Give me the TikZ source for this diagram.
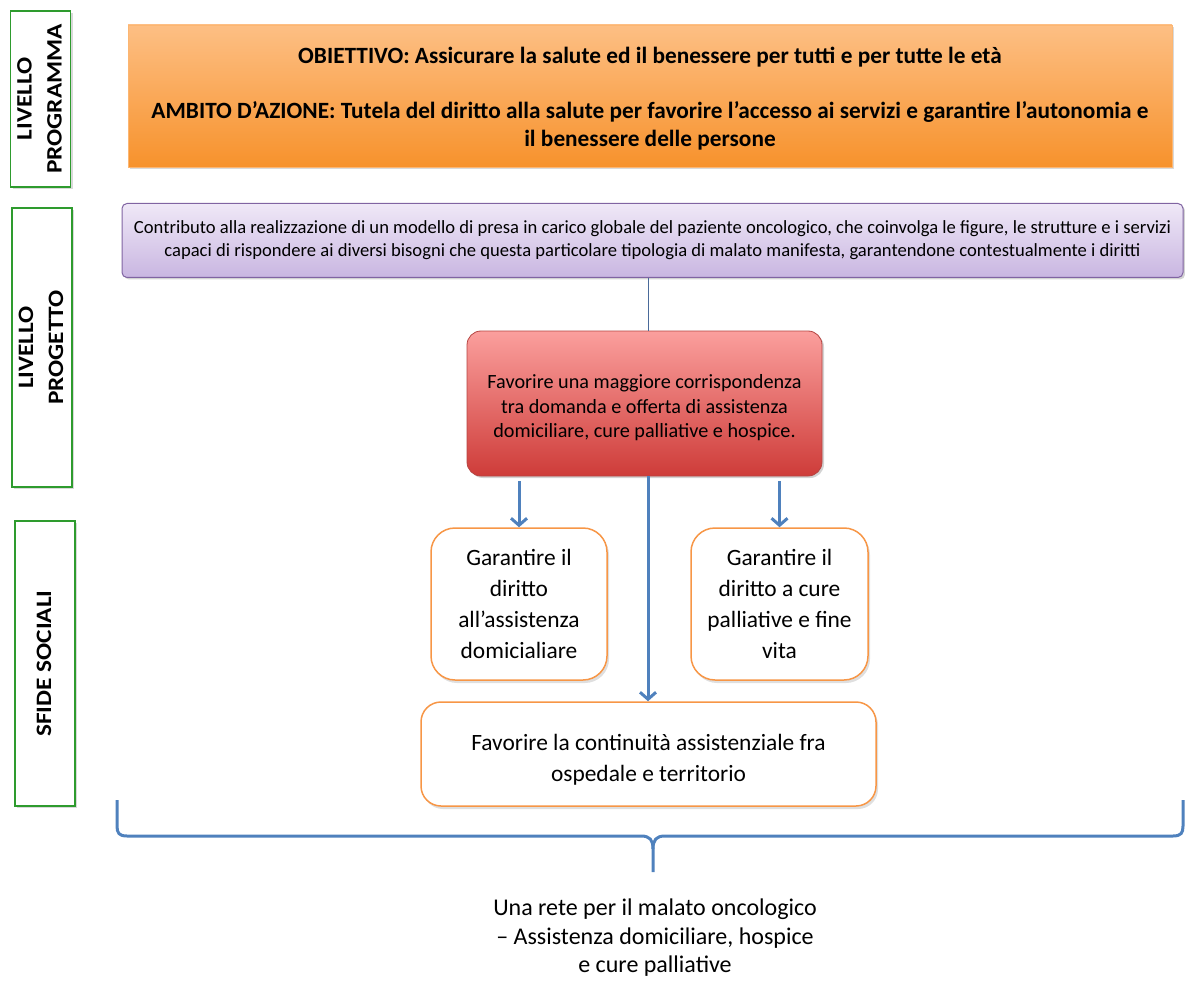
\documentclass[tikz,border=0pt]{standalone}
\usepackage{fontspec}
\setmainfont{Carlito}
\usetikzlibrary{shadows,arrows.meta}
\definecolor{gbord}{HTML}{2E9B2E}
\definecolor{otop}{HTML}{FDBF84}
\definecolor{obot}{HTML}{F7922C}
\definecolor{ptop}{HTML}{EFE8F7}
\definecolor{pbot}{HTML}{C9B6E1}
\definecolor{pbord}{HTML}{8064A2}
\definecolor{rtop}{HTML}{FB9F9D}
\definecolor{rbot}{HTML}{CE3C39}
\definecolor{rbord}{HTML}{B54542}
\definecolor{obord}{HTML}{F79646}
\definecolor{barrow}{HTML}{4F81BD}
\definecolor{thinl}{HTML}{4A6A9A}
\newcommand{\lvtext}[1]{\scalebox{1.15}[1]{\begin{tabular}{@{}c@{}}#1\end{tabular}}}
\tikzset{
  levelbox/.style={draw=gbord,line width=1.3pt,fill=white,rotate=90,align=center,
    font=\bfseries\fontsize{22}{30}\selectfont,inner sep=0pt,
    drop shadow={shadow xshift=2pt,shadow yshift=-2pt,opacity=0.3}},
  goalbox/.style={top color=otop,bottom color=obot,draw=otop!80!obot,line width=0.6pt,
    align=center,inner sep=0pt,drop shadow={shadow xshift=2pt,shadow yshift=-2pt,opacity=0.3}},
  goaltext/.style={font=\bfseries\fontsize{23.3}{28}\selectfont,align=center},
  projbox/.style={top color=ptop,bottom color=pbot,draw=pbord,line width=1pt,rounded corners=5pt,
    align=center,inner sep=0pt,font=\fontsize{18.6}{23}\selectfont,
    drop shadow={shadow xshift=2pt,shadow yshift=-2pt,opacity=0.35}},
  redbox/.style={top color=rtop,bottom color=rbot,draw=rbord,line width=0.8pt,rounded corners=14pt,
    inner sep=0pt,drop shadow={shadow xshift=2pt,shadow yshift=-2pt,opacity=0.35}},
  redtext/.style={align=center,inner sep=0pt,font=\fontsize{20.2}{24.5}\selectfont},
  chalbox/.style={draw=obord,line width=1.5pt,fill=white,rounded corners=24pt,align=center,
    inner sep=0pt,font=\fontsize{23.4}{31}\selectfont,
    drop shadow={shadow xshift=2pt,shadow yshift=-3pt,opacity=0.25}},
  bluearrow/.style={draw=barrow,line width=3pt,-{Straight Barb[length=7pt,width=16pt,line width=3pt]}},
  thinline/.style={draw=thinl,line width=0.8pt},
  bracepath/.style={draw=barrow,line width=3pt},
  restext/.style={align=center,font=\fontsize{24}{28.5}\selectfont}
}
\begin{document}
\begin{tikzpicture}[x=1pt,y=-1pt]
\useasboundingbox (0,0) rectangle (1185,981);
% level labels
\node[levelbox,minimum width=176pt,minimum height=59pt] (lv1) at (40.5,99) {\lvtext{LIVELLO\\PROGRAMMA}};
\node[levelbox,minimum width=279pt,minimum height=60pt] (lv2) at (42,347.5) {\lvtext{LIVELLO\\PROGETTO}};
\node[levelbox,minimum width=285pt,minimum height=60pt] (lv3) at (45,663.5) {\lvtext{SFIDE SOCIALI}};
% goal
\node[goalbox,minimum width=1044pt,minimum height=142pt] (goal) at (650,96) {};
\node[goaltext] (goalt1) at (650,57) {OBIETTIVO: Assicurare la salute ed il benessere per tutti e per tutte le età};
\node[goaltext] (goalt2) at (650,125.5) {AMBITO D’AZIONE: Tutela del diritto alla salute per favorire l’accesso ai servizi e garantire l’autonomia e\\il benessere delle persone};
% project
\node[projbox,minimum width=1061pt,minimum height=74pt] (proj) at (652.5,240.5) {Contributo alla realizzazione di un modello di presa in carico globale del paziente oncologico, che coinvolga le figure, le strutture e i servizi\\capaci di rispondere ai diversi bisogni che questa particolare tipologia di malato manifesta, garantendone contestualmente i diritti};
% red
\node[redbox,minimum width=355pt,minimum height=145pt] (red) at (644.5,403.5) {};
\node[redtext] (redt) at (644.5,408) {Favorire una maggiore corrispondenza\\tra domanda e offerta di assistenza\\domiciliare, cure palliative e hospice.};
% challenges
\node[chalbox,minimum width=176pt,minimum height=152pt] (left) at (519,604) {Garantire il\\diritto\\all’assistenza\\domicialiare};
\node[chalbox,minimum width=177pt,minimum height=152pt] (right) at (779.5,604) {Garantire il\\diritto a cure\\palliative e fine\\vita};
\node[chalbox,rounded corners=20pt,minimum width=455pt,minimum height=104pt] (bottom) at (648.5,754) {\rule{0pt}{28pt}Favorire la continuità assistenziale fra\\ospedale e territorio};
% connectors
\coordinate (cx) at (648,0);
\draw[thinline] (proj.south -| cx) -- (red.north -| cx);
\draw[bluearrow,shorten <=5pt] (red.south -| left.north) -- (left.north);
\draw[bluearrow,shorten <=5pt] (red.south -| right.north) -- (right.north);
\draw[bluearrow] (red.south -| cx) -- (bottom.north -| cx);
% brace
\coordinate (bl) at (117,800);
\coordinate (br) at (1183,800);
\coordinate (tip) at (653,872);
\draw[bracepath] (bl) -- (117,826) .. controls (117,833) and (119,836) .. (127,836) -- (641,836)
  .. controls (650,836) and (653,840) .. (653,849) -- (tip);
\draw[bracepath] (653,849) .. controls (653,840) and (656,836) .. (665,836) -- (1173,836)
  .. controls (1181,836) and (1183,833) .. (1183,826) -- (br);
\node[restext] (res) at (655,938) {Una rete per il malato oncologico\\– Assistenza domiciliare, hospice\\e cure palliative};
\end{tikzpicture}
\end{document}
